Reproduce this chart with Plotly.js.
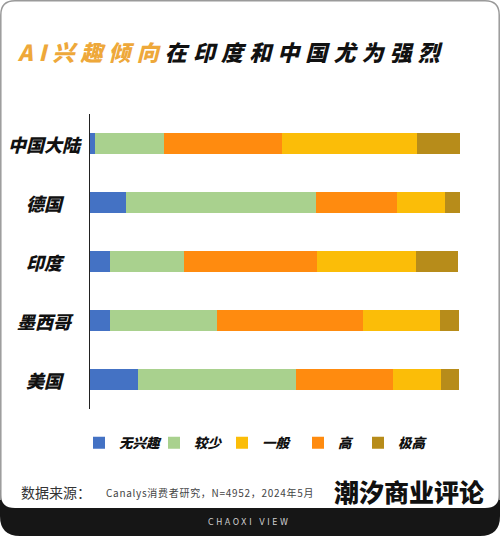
<!DOCTYPE html>
<html><head><meta charset="utf-8">
<script src="https://cdn.plot.ly/plotly-3.0.1.min.js"></script>
<style>html,body{margin:0;padding:0;background:#fff;}#chart{width:500px;height:536px;}</style>
</head><body><div id="chart"></div>
<script>
const categories = ['中国大陆','德国','印度','墨西哥','美国'];
const seriesNames = ['无兴趣','较少','高','一般','极高'];
const noInterest = [1.4, 9.7, 5.4, 5.4, 12.9];
const less = [18.6, 51.5, 20.0, 28.8, 42.8];
const high = [32.0, 21.8, 35.9, 39.5, 26.3];
const medium = [36.4, 12.9, 26.8, 20.9, 12.9];
const veryHigh = [11.5, 4.1, 11.4, 5.0, 4.7];
const legendIds = ['legend','legend2','legend4','legend3','legend5'];
const colors = ['#4472C4','#A9D18E','#FF8B0F','#FBBD08','#B78C1A'];

const W = 500, H = 536, L = 90, R = 40, T = 114, B = 127;
const pw = W - L - R, ph = H - T - B;
const X = p => (p - L) / pw;
const Y = p => (H - B - p) / ph;
const heavy = {family: '"Noto Sans CJK SC", sans-serif', weight: 900, style: 'italic'};

const values = [noInterest, less, high, medium, veryHigh];
const traces = values.map((v, i) => ({
  type: 'bar', orientation: 'h', name: seriesNames[i], x: v, y: categories,
  marker: {color: colors[i]}, legend: legendIds[i], hoverinfo: 'skip'
}));

const shapes = [
  {type:'path', xref:'paper', yref:'paper', layer:'below',
   path:`M${X(0)},${Y(490)} L${X(0)},${Y(516)} Q${X(0)},${Y(536)} ${X(20)},${Y(536)} L${X(480)},${Y(536)} Q${X(500)},${Y(536)} ${X(500)},${Y(516)} L${X(500)},${Y(490)} Z`,
   fillcolor:'#161616', line:{width:0}},
  {type:'path', xref:'paper', yref:'paper', layer:'below',
   path:`M${X(1)},${Y(485)} L${X(1)},${Y(495)} Q${X(1)},${Y(508)} ${X(15)},${Y(508)} L${X(485)},${Y(508)} Q${X(499)},${Y(508)} ${X(499)},${Y(495)} L${X(499)},${Y(485)} Z`,
   fillcolor:'#ffffff', line:{width:0}},
  {type:'path', xref:'paper', yref:'paper', layer:'below',
   path:`M${X(0.8)},${Y(500)} L${X(0.8)},${Y(15)} Q${X(0.8)},${Y(0.8)} ${X(15)},${Y(0.8)} L${X(485)},${Y(0.8)} Q${X(499.2)},${Y(0.8)} ${X(499.2)},${Y(15)} L${X(499.2)},${Y(500)}`,
   line:{color:'#9a9a9a', width:1.5}}
];

const annotations = categories.map(c => ({
  xref:'paper', yref:'y', x: X(45), y: c, text: c, showarrow:false,
  xanchor:'center', yanchor:'middle',
  font: Object.assign({size:18, color:'#111'}, heavy)
}));
annotations.push(
  {xref:'paper', yref:'paper', x:X(19), y:Y(492), xanchor:'left', yanchor:'middle', showarrow:false,
   text:'数据来源：', font:{family:'"Noto Sans CJK SC", sans-serif', size:14, color:'#333'}},
  {xref:'paper', yref:'paper', x:X(104), y:Y(492), xanchor:'left', yanchor:'middle', showarrow:false,
   text:'<span style="letter-spacing:0.7px">Canalys消费者研究，N=4952，2024年5月</span>', font:{family:'"Noto Sans CJK SC", sans-serif', size:10, color:'#444'}},
  {xref:'paper', yref:'paper', x:X(409), y:Y(491), xanchor:'center', yanchor:'middle', showarrow:false,
   text:'潮汐商业评论', font:{family:'"Noto Sans CJK SC", sans-serif', size:25, weight:900, color:'#111'}},
  {xref:'paper', yref:'paper', x:X(249), y:Y(522), xanchor:'center', yanchor:'middle', showarrow:false,
   text:'<span style="letter-spacing:2.6px">CHAOXI VIEW</span>', font:{family:'"DejaVu Sans", sans-serif', size:8, color:'#cfcfcf'}}
);

const legendSymbolX = [98, 173, 241, 317, 377];
const legendBase = {orientation:'h', xanchor:'left', y:Y(443), yanchor:'middle',
  font: Object.assign({size:13.5, color:'#111'}, heavy), itemclick:false, bgcolor:'rgba(0,0,0,0)'};

const layout = {
  width: W, height: H,
  margin: {l:L, r:R, t:T, b:B, pad:0},
  paper_bgcolor:'rgba(0,0,0,0)', plot_bgcolor:'rgba(0,0,0,0)',
  barmode:'stack', bargap:0.64,
  title: {
    text:'<span style="letter-spacing:6.1px"><span style="color:#EEA83A">AI兴趣倾向</span>在印度和中国尤为强烈</span>',
    xref:'container', yref:'container', x:18/W, xanchor:'left', y:1-53/H, yanchor:'middle',
    font: Object.assign({size:22, color:'#111'}, heavy)
  },
  xaxis: {range:[0,100], visible:false, fixedrange:true},
  yaxis: {type:'category', autorange:'reversed', showticklabels:false, ticks:'', showgrid:false, zeroline:false,
          showline:true, linecolor:'#222', linewidth:1.5},
  showlegend:true,
  shapes: shapes,
  annotations: annotations
};
['legend','legend2','legend3','legend4','legend5'].forEach((id, k) => {
  layout[id] = Object.assign({}, legendBase, {x: X(legendSymbolX[k] - 19)});
});

Plotly.newPlot('chart', traces, layout, {staticPlot:true, displayModeBar:false});
</script></body></html>
